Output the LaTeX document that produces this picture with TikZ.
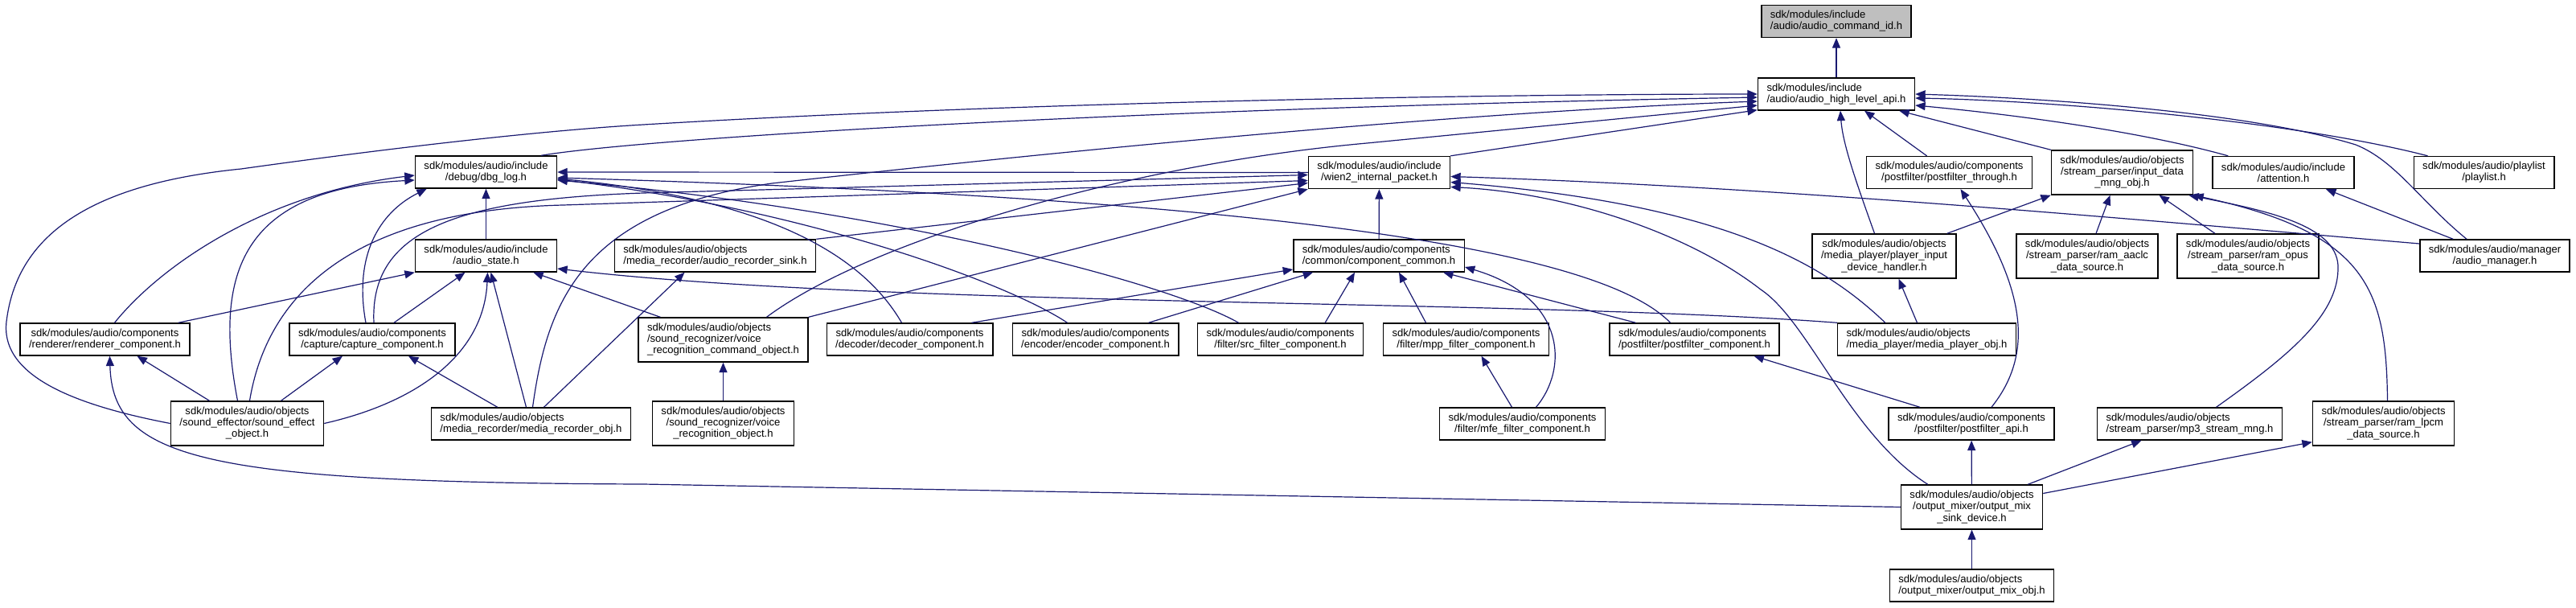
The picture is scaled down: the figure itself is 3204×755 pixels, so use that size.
\documentclass[tikz,border=0pt]{standalone}
\usepackage{fontspec}
\setmainfont{Liberation Sans}
\usepackage{xcolor}
\usepackage{tikz}
\usetikzlibrary{arrows.meta,calc}

\definecolor{dxblue}{HTML}{191970}
\definecolor{dxgray}{HTML}{BFBFBF}

\begin{document}
\begin{tikzpicture}[
    x=0.25mm, y=-0.25mm,
    font=\fontsize{9.3}{10}\selectfont,
    hfile/.style={draw=black, line width=0.35mm, fill=white, align=center,
                  minimum height=10mm, inner xsep=2.75mm, inner ysep=0.5mm},
    hfile3/.style={hfile, minimum height=13.75mm},
    hroot/.style={hfile, fill=dxgray},
    incl/.style={->, dxblue, line width=0.3mm},
    >={Triangle[length=3.1mm, width=2.5mm]},
    ]
\path[use as bounding box, fill=white] (0,0) rectangle (3204,755);

% row 0 / 1
\node[hroot, align=left] (cmdid) at (2284,26.5) {sdk/modules/include\\/audio/audio\_command\_id.h};
\node[hfile, align=left] (hlapi) at (2284,117) {sdk/modules/include\\/audio/audio\_high\_level\_api.h};

% row 2
\node[hfile] (dbglog) at (604.5,214) {sdk/modules/audio/include\\/debug/dbg\_log.h};
\node[hfile] (wien2) at (1715.5,214.5) {sdk/modules/audio/include\\/wien2\_internal\_packet.h};
\node[hfile] (pfthrough) at (2424.5,214.5) {sdk/modules/audio/components\\/postfilter/postfilter\_through.h};
\node[hfile3] (inputdata) at (2639.5,214.5) {sdk/modules/audio/objects\\/stream\_parser/input\_data\\\_mng\_obj.h};
\node[hfile] (attention) at (2840,214.5) {sdk/modules/audio/include\\/attention.h};
\node[hfile] (playlist) at (3089.5,214.5) {sdk/modules/audio/playlist\\/playlist.h};

% row 3
\node[hfile] (audiostate) at (604.5,318) {sdk/modules/audio/include\\/audio\_state.h};
\node[hfile, align=left] (recsink) at (889.5,318) {sdk/modules/audio/objects\\/media\_recorder/audio\_recorder\_sink.h};
\node[hfile, align=left] (compcommon) at (1715,318) {sdk/modules/audio/components\\/common/component\_common.h};
\node[hfile3] (playerinput) at (2343.5,318.5) {sdk/modules/audio/objects\\/media\_player/player\_input\\\_device\_handler.h};
\node[hfile3] (aaclc) at (2596,318.5) {sdk/modules/audio/objects\\/stream\_parser/ram\_aaclc\\\_data\_source.h};
\node[hfile3] (opus) at (2796,318.5) {sdk/modules/audio/objects\\/stream\_parser/ram\_opus\\\_data\_source.h};
\node[hfile] (audiomgr) at (3103,318) {sdk/modules/audio/manager\\/audio\_manager.h};

% row 4
\node[hfile] (renderer) at (130.5,422) {sdk/modules/audio/components\\/renderer/renderer\_component.h};
\node[hfile] (capture) at (463,422) {sdk/modules/audio/components\\/capture/capture\_component.h};
\node[hfile3, align=left] (vrcmd) at (899.5,422.5) {sdk/modules/audio/objects\\/sound\_recognizer/voice\\\_recognition\_command\_object.h};
\node[hfile] (decoder) at (1131.5,422) {sdk/modules/audio/components\\/decoder/decoder\_component.h};
\node[hfile] (encoder) at (1362.5,422) {sdk/modules/audio/components\\/encoder/encoder\_component.h};
\node[hfile] (srcfilter) at (1592.5,422) {sdk/modules/audio/components\\/filter/src\_filter\_component.h};
\node[hfile] (mppfilter) at (1823.5,422) {sdk/modules/audio/components\\/filter/mpp\_filter\_component.h};
\node[hfile, align=left] (pfcomp) at (2107.5,422) {sdk/modules/audio/components\\/postfilter/postfilter\_component.h};
\node[hfile, align=left] (mpobj) at (2396.5,422) {sdk/modules/audio/objects\\/media\_player/media\_player\_obj.h};

% row 5
\node[hfile3] (soundeff) at (307.5,526.5) {sdk/modules/audio/objects\\/sound\_effector/sound\_effect\\\_object.h};
\node[hfile, align=left] (mediarec) at (660.5,527) {sdk/modules/audio/objects\\/media\_recorder/media\_recorder\_obj.h};
\node[hfile3] (vrobj) at (899.5,526.5) {sdk/modules/audio/objects\\/sound\_recognizer/voice\\\_recognition\_object.h};
\node[hfile] (mfe) at (1893.5,527) {sdk/modules/audio/components\\/filter/mfe\_filter\_component.h};
\node[hfile] (pfapi) at (2452,527) {sdk/modules/audio/components\\/postfilter/postfilter\_api.h};
\node[hfile, align=left] (mp3) at (2723.5,527) {sdk/modules/audio/objects\\/stream\_parser/mp3\_stream\_mng.h};
\node[hfile3] (lpcm) at (2964.5,526.5) {sdk/modules/audio/objects\\/stream\_parser/ram\_lpcm\\\_data\_source.h};

% row 6 / 7
\node[hfile3] (sink) at (2452.5,630.5) {sdk/modules/audio/objects\\/output\_mixer/output\_mix\\\_sink\_device.h};
\node[hfile, align=left] (mixobj) at (2452.5,728) {sdk/modules/audio/objects\\/output\_mixer/output\_mix\_obj.h};

% into audio_command_id.h
\draw[incl] (hlapi) -- (cmdid);

% into audio_high_level_api.h
\draw[incl] (soundeff.west) .. controls (100,505) and (0,470) .. (8,400)
      .. controls (20,300) and (100,230) .. (300,210)
      .. controls (500,182) and (680,162) .. (800,155)
      .. controls (1300,125) and (1900,117) .. (hlapi.west);
\draw[incl] ($(dbglog.north east)+(-20,0)$) .. controls (800,172) and (1400,135) .. ($(hlapi.west)+(0,4)$);
\draw[incl] ($(mediarec.north)+(2,0)$) .. controls (680,380) and (720,262) .. (960,228)
      .. controls (1300,190) and (1800,140) .. ($(hlapi.west)+(0,9)$);
\draw[incl] ($(vrcmd.north)+(54,0)$) .. controls (1080,300) and (1400,205) .. (1700,178) -- ($(hlapi.west)+(0,14)$);
\draw[incl] (wien2.north east) -- ($(hlapi.south west)+(0,-1)$);
\draw[incl] ($(playerinput.north)+(-12,0)$) .. controls (2310,230) and (2292,180) .. ($(hlapi.south)+(5,0)$);
\draw[incl] ($(pfthrough.north)+(-28,0)$) -- ($(hlapi.south)+(35,0)$);
\draw[incl] (inputdata.north west) -- ($(hlapi.south east)+(-20,0)$);
\draw[incl] ($(attention.north west)+(20,0)$) .. controls (2650,160) and (2480,140) .. ($(hlapi.east)+(0,14)$);
\draw[incl] ($(playlist.north west)+(18,0)$) .. controls (2850,150) and (2550,125) .. ($(hlapi.east)+(0,5)$);
\draw[incl] ($(audiomgr.north)+(-35,0)$) .. controls (3010,250) and (2980,200) .. (2930,180)
      .. controls (2800,140) and (2550,122) .. (hlapi.east);

% into dbg_log.h
\draw[incl] (audiostate) -- (dbglog);
\draw[incl] ($(renderer.north)+(12,0)$) .. controls (200,330) and (330,240) .. ($(dbglog.west)+(0,4)$);
\draw[incl] ($(soundeff.north)+(-12,0)$) .. controls (265,340) and (300,235) .. ($(dbglog.west)+(0,10)$);
\draw[incl] ($(capture.north)+(-8,0)$) .. controls (440,320) and (470,265) .. ($(dbglog.south west)+(15,0)$);
\draw[incl] (wien2.west) -- (dbglog.east);
\draw[incl] ($(decoder.north)+(-10,0)$) .. controls (1080,330) and (980,250) .. ($(dbglog.east)+(0,8)$);
\draw[incl] ($(encoder.north)+(-35,0)$) .. controls (1250,350) and (1000,260) .. ($(dbglog.east)+(0,9)$);
\draw[incl] ($(srcfilter.north)+(-52,0)$) .. controls (1450,350) and (1100,260) .. ($(dbglog.east)+(0,10)$);
\draw[incl] ($(pfcomp.north)+(-30,0)$) .. controls (1980,300) and (1500,245) .. ($(dbglog.east)+(0,7)$);

% into wien2_internal_packet.h
\draw[incl] (compcommon) -- (wien2);
\draw[incl] ($(capture.north)+(2,0)$) .. controls (460,290) and (560,248) .. (800,240) -- ($(wien2.west)+(0,3)$);
\draw[incl] ($(soundeff.north)+(3,0)$) .. controls (330,380) and (420,262) .. (700,255) -- ($(wien2.west)+(0,10)$);
\draw[incl] (recsink.north east) -- ($(wien2.west)+(0,13)$);
\draw[incl] (vrcmd.north east) -- (wien2.south west);
\draw[incl] ($(audiomgr.west)+(0,-15)$) .. controls (2600,268) and (2200,232) .. ($(wien2.east)+(0,5)$);
\draw[incl] ($(mpobj.north west)+(60,0)$) .. controls (2270,330) and (2150,255) .. ($(wien2.east)+(0,12)$);
\draw[incl] ($(sink.north west)+(34,0)$) .. controls (2300,540) and (2250,400) .. (2190,360)
      .. controls (2100,290) and (1950,240) .. ($(wien2.east)+(0,18)$);

% into audio_state.h
\draw[incl] ($(renderer.north east)+(-15,0)$) -- (audiostate.south west);
\draw[incl] ($(capture.north)+(27,0)$) -- ($(audiostate.south)+(-26,0)$);
\draw[incl] ($(mediarec.north)+(-6,0)$) -- ($(audiostate.south)+(6,0)$);
\draw[incl] (soundeff.east) .. controls (520,500) and (602,440) .. ($(audiostate.south)+(2,0)$);
\draw[incl] ($(vrcmd.north west)+(28,0)$) -- ($(audiostate.south east)+(-30,0)$);
\draw[incl] (mpobj.north west) .. controls (1900,372) and (1100,382) .. ($(audiostate.east)+(0,16)$);

% recorder, capture, renderer
\draw[incl] ($(mediarec.north)+(16,0)$) -- ($(recsink.south)+(-38,0)$);
\draw[incl] ($(soundeff.north)+(42,0)$) -- ($(capture.south)+(-37,0)$);
\draw[incl] ($(mediarec.north west)+(83,0)$) -- ($(capture.south)+(45,0)$);
\draw[incl] ($(soundeff.north)+(-47,0)$) -- ($(renderer.south)+(40,0)$);
\draw[incl] (sink.west) -- (800,602) .. controls (250,600) and (140,570) .. ($(renderer.south)+(6,0)$);
\draw[incl] (vrobj) -- (vrcmd);

% into component_common.h
\draw[incl] ($(decoder.north east)+(-27,0)$) -- ($(compcommon.west)+(0,17)$);
\draw[incl] ($(encoder.north east)+(-38,0)$) -- ($(compcommon.south west)+(25,0)$);
\draw[incl] ($(srcfilter.north east)+(-48,0)$) -- ($(compcommon.south)+(-30,0)$);
\draw[incl] ($(mppfilter.north)+(-50,0)$) -- ($(compcommon.south)+(25,0)$);
\draw[incl] ($(pfcomp.north)+(-73,0)$) -- ($(compcommon.south)+(80,0)$);
\draw[incl] ($(mfe.north)+(17,0)$) .. controls (1950,460) and (1950,370) .. ($(compcommon.east)+(0,14)$);
\draw[incl] ($(mfe.north)+(-13,0)$) -- ($(mppfilter.south)+(19,0)$);

% postfilter
\draw[incl] ($(pfapi.north)+(-64,0)$) -- ($(pfcomp.south)+(74,0)$);
\draw[incl] ($(pfapi.north)+(25,0)$) .. controls (2530,440) and (2520,360) .. ($(pfthrough.south)+(14,0)$);

% stream parser / player
\draw[incl] ($(mpobj.north)+(-12,0)$) -- ($(playerinput.south)+(18,0)$);
\draw[incl] ($(playerinput.north east)+(-12,0)$) -- (inputdata.south west);
\draw[incl] ($(aaclc.north)+(11,0)$) -- ($(inputdata.south)+(-15,0)$);
\draw[incl] ($(opus.north)+(-41,0)$) -- ($(inputdata.south)+(46,0)$);
\draw[incl] ($(mp3.north)+(33,0)$) .. controls (2850,440) and (2910,390) .. (2908,330)
      .. controls (2905,280) and (2820,262) .. ($(inputdata.south east)+(-6,0)$);
\draw[incl] ($(lpcm.north)+(5,0)$) .. controls (2968,360) and (2945,290) .. (inputdata.south east);
\draw[incl] ($(audiomgr.north west)+(42,0)$) -- ($(attention.south)+(53,0)$);

% output mixer
\draw[incl] (sink) -- (pfapi);
\draw[incl] ($(sink.north east)+(-19,0)$) -- ($(mp3.south)+(-60,0)$);
\draw[incl] ($(sink.east)+(0,-17)$) -- ($(lpcm.south west)+(0,-5)$);
\draw[incl] (mixobj) -- (sink);
\end{tikzpicture}
\end{document}
